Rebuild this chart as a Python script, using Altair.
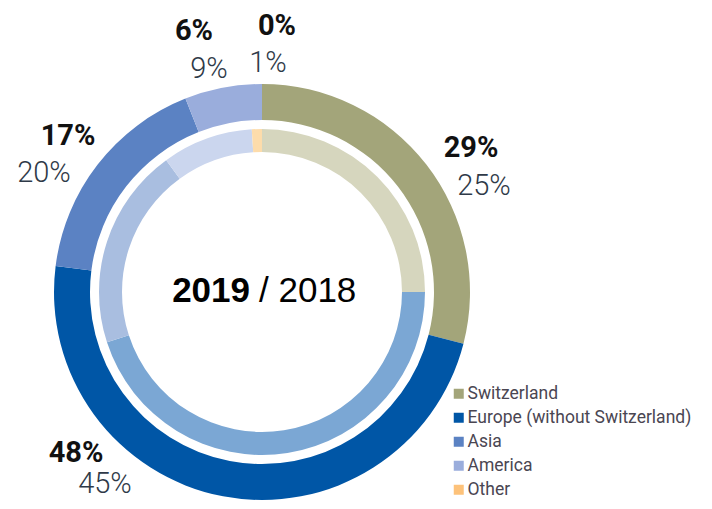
import altair as alt
import pandas as pd

# ---- data ----
regions = ["Switzerland", "Europe (without Switzerland)", "Asia", "America", "Other"]
share_2019 = [29, 48, 17, 6, 0]
share_2018 = [25, 45, 20, 9, 1]
years = ["2019", "2018"]

# ---- style / layout ----
outer_colors = ["#a3a57a", "#0056a6", "#5b82c3", "#9aaddc", "#fdc27a"]
inner_colors = ["#d6d6be", "#7ba7d4", "#a9bee0", "#cbd6ee", "#fddcab"]
W, H = 696, 493
CX, CY = 254, 284
# label anchor offsets from the ring centre (text centre, baseline)
BOLD_OFF = [(209, -135), (-186, 170), (-194, -147), (-68, -252), (15, -257)]
LIGHT_OFF = [(222, -97), (-157, 201), (-218, -110), (-53, -214), (6, -220)]

df19 = pd.DataFrame({"region": regions, "value": share_2019, "order": list(range(len(regions)))})
df18 = pd.DataFrame({"region": regions, "value": share_2018, "order": list(range(len(regions)))})

lab19 = pd.DataFrame({
    "label": [f"{v}%" for v in share_2019],
    "px": [CX + dx for dx, dy in BOLD_OFF],
    "py": [CY + dy for dx, dy in BOLD_OFF],
})
lab18 = pd.DataFrame({
    "label": [f"{v}%" for v in share_2018],
    "px": [CX + dx for dx, dy in LIGHT_OFF],
    "py": [CY + dy for dx, dy in LIGHT_OFF],
})
center = pd.DataFrame({"y19": [years[0]], "y18": ["/ " + years[1]]})

outer = alt.Chart(df19).mark_arc(radius=208, radius2=172).encode(
    theta=alt.Theta("value:Q", stack=True),
    order=alt.Order("order:Q"),
    color=alt.Color(
        "region:N",
        scale=alt.Scale(domain=regions, range=outer_colors),
        legend=alt.Legend(
            title=None, orient="none", legendX=442, legendY=377,
            symbolType="square", symbolSize=100, symbolStrokeWidth=0,
            labelFontSize=17.5, labelFont="Roboto", labelColor="#4a4652",
            rowPadding=5, labelOffset=0, padding=0, labelLimit=400,
        ),
    ),
    x=alt.value(CX), y=alt.value(CY),
)

inner = alt.Chart(df18).mark_arc(radius=163, radius2=140).encode(
    theta=alt.Theta("value:Q", stack=True),
    order=alt.Order("order:Q"),
    color=alt.Color("region:N", scale=alt.Scale(domain=regions, range=inner_colors), legend=None),
    x=alt.value(CX), y=alt.value(CY),
)

bold_labels = alt.Chart(lab19).mark_text(
    font="Roboto", fontWeight="bold", fontSize=29, color="#111111",
    align="center", baseline="alphabetic",
).encode(
    x=alt.X("px:Q", scale=None), y=alt.Y("py:Q", scale=None), text="label:N"
)

light_labels = alt.Chart(lab18).mark_text(
    font="Roboto", fontWeight=300, fontSize=29, color="#2f3a48",
    align="center", baseline="alphabetic",
).encode(
    x=alt.X("px:Q", scale=None), y=alt.Y("py:Q", scale=None), text="label:N"
)

c19 = alt.Chart(center).mark_text(
    font="Liberation Sans", fontWeight="bold", fontSize=35, color="#000000",
    align="right", baseline="alphabetic",
).encode(x=alt.value(CX - 12), y=alt.value(CY + 10), text="y19:N")

c18 = alt.Chart(center).mark_text(
    font="Liberation Sans", fontSize=35, color="#000000",
    align="left", baseline="alphabetic",
).encode(x=alt.value(CX - 3), y=alt.value(CY + 10), text="y18:N")

chart = alt.layer(outer, inner, bold_labels, light_labels, c19, c18).resolve_scale(
    color="independent", theta="independent"
).properties(
    width=W, height=H, padding=0, autosize=alt.AutoSizeParams(type="none")
).configure_view(stroke=None)

chart.save("out.html", embed_options={"renderer": "svg", "actions": False})
